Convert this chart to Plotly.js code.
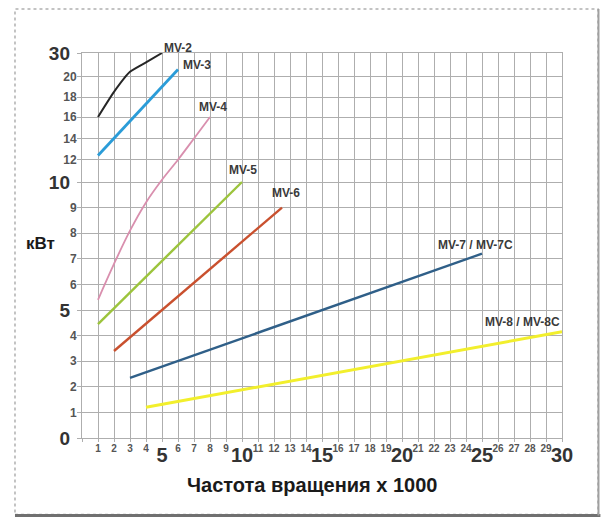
<!DOCTYPE html>
<html>
<head>
<meta charset="utf-8">
<script src="https://cdn.plot.ly/plotly-3.0.1.min.js"></script>
<style>
  html, body { margin: 0; padding: 0; background: #ffffff; }
  #chart { width: 604px; height: 519px; }
</style>
</head>
<body>
<div id="chart"></div>
<script>
// ---- Data (x = rpm x 1000, y = kW) ----
const seriesNames = ['MV-2', 'MV-3', 'MV-4', 'MV-5', 'MV-6', 'MV-7 / MV-7C', 'MV-8 / MV-8C'];
const mv2X = [1, 2, 3, 4, 5];
const mv2Y = [16, 18.5, 22, 26, 30];
const mv3X = [1, 6];
const mv3Y = [12.4, 23];
const mv4X = [1, 2, 3, 4, 5, 6, 7, 8];
const mv4Y = [5.4, 6.8, 8.1, 9.2, 10.2, 12, 14, 16];
const mv5X = [1, 10];
const mv5Y = [4.45, 10];
const mv6X = [2, 12.5];
const mv6Y = [3.4, 9];
const mv7X = [3, 25];
const mv7Y = [2.35, 7.2];
const mv8X = [4, 30];
const mv8Y = [1.2, 4.15];

// ---- Tick labels ----
const xSmallTicks = [1, 2, 3, 4, 6, 7, 8, 9, 11, 12, 13, 14, 16, 17, 18, 19, 21, 22, 23, 24, 26, 27, 28, 29];
const xBigTicks = [5, 10, 15, 20, 25, 30];
const yTickLabels = [0, 1, 2, 3, 4, 5, 6, 7, 8, 9, 10, 12, 14, 16, 18, 20, 30];
const yBigLabels = [0, 5, 10, 30];

// ---- Axis layout (non-uniform kW scale as printed on the chart) ----
const yTickPos = [0, 1, 2, 3, 4, 5, 6, 7, 8, 9, 10, 10.87, 11.70, 12.54, 13.32, 14.12, 15.04];

function toPos(v) {
  for (let i = 0; i < yTickLabels.length - 1; i++) {
    const a = yTickLabels[i], b = yTickLabels[i + 1];
    if (v >= a && v <= b) {
      return yTickPos[i] + (v - a) / (b - a) * (yTickPos[i + 1] - yTickPos[i]);
    }
  }
  return yTickPos[yTickPos.length - 1];
}

const seriesX = [mv2X, mv3X, mv4X, mv5X, mv6X, mv7X, mv8X];
const seriesY = [mv2Y, mv3Y, mv4Y, mv5Y, mv6Y, mv7Y, mv8Y];
const colors = ['#262626', '#2a9cd8', '#d98fae', '#9cc43c', '#c9502e', '#2f5f88', '#f2ef2c'];
const widths = [2, 2.8, 1.8, 2.4, 2.4, 2.4, 3];
const shapesLine = ['spline', 'linear', 'spline', 'linear', 'linear', 'linear', 'linear'];
const smooth = [0.5, 1, 1, 1, 1, 1, 1];

const traces = seriesNames.map((name, i) => ({
  type: 'scatter',
  mode: 'lines',
  name: name,
  x: seriesX[i],
  y: seriesY[i].map(toPos),
  customdata: seriesY[i],
  hovertemplate: name + ': %{customdata} кВт<extra></extra>',
  line: { color: colors[i], width: widths[i], shape: shapesLine[i], smoothing: smooth[i] },
  showlegend: false
}));
traces.push({ type: 'scatter', mode: 'none', x: [], y: [], xaxis: 'x2', yaxis: 'y2', showlegend: false, hoverinfo: 'skip' });

const font = 'Liberation Sans, Arial, sans-serif';
const gridColor = '#aeaeae';

const xAllTicks = [];
for (let v = 0; v <= 30; v++) xAllTicks.push(v);
const xAllText = xAllTicks.map(v => xSmallTicks.indexOf(v) >= 0 ? String(v) : '');
const ySmallText = yTickLabels.map(v => yBigLabels.indexOf(v) >= 0 ? '' : String(v));
const yBigPos = yBigLabels.map(v => yTickPos[yTickLabels.indexOf(v)]);

// label placement relative to each series' end point
const labelOpts = [
  { xanchor: 'left', xshift: 0, yshift: 5 },
  { xanchor: 'left', xshift: 3, yshift: 4 },
  { xanchor: 'center', xshift: 3, yshift: 10 },
  { xanchor: 'center', xshift: 1, yshift: 12 },
  { xanchor: 'center', xshift: 4, yshift: 15 },
  { xanchor: 'center', xshift: -7, yshift: 9 },
  { xanchor: 'right', xshift: 0, yshift: 10 }
];
const annotations = seriesNames.map((name, i) => ({
  x: seriesX[i][seriesX[i].length - 1],
  y: toPos(seriesY[i][seriesY[i].length - 1]),
  xref: 'x', yref: 'y',
  text: name,
  showarrow: false,
  xanchor: labelOpts[i].xanchor,
  yanchor: 'middle',
  xshift: labelOpts[i].xshift,
  yshift: labelOpts[i].yshift,
  font: { family: font, size: 12, color: '#3a3a3a', weight: 'bold' }
}));
annotations.push({
  xref: 'paper', yref: 'paper', x: 0.479, y: -0.122,
  text: 'Частота вращения х 1000', showarrow: false,
  xanchor: 'center', yanchor: 'middle',
  font: { family: font, size: 20, color: '#1a1a1a', weight: 'bold' }
});
annotations.push({
  xref: 'paper', yref: 'paper', x: -0.0875, y: 0.504,
  text: 'кВт', showarrow: false,
  xanchor: 'center', yanchor: 'middle',
  font: { family: font, size: 17, color: '#1a1a1a', weight: 'bold' }
});

const layout = {
  width: 604, height: 519,
  margin: { l: 82, r: 42, t: 53, b: 81 },
  paper_bgcolor: '#ffffff',
  plot_bgcolor: '#ffffff',
  showlegend: false,
  xaxis: {
    range: [0, 30], tickmode: 'array', tickvals: xAllTicks, ticktext: xAllText,
    showgrid: true, gridcolor: gridColor, gridwidth: 1, zeroline: false,
    showline: true, linecolor: gridColor, linewidth: 1, mirror: true,
    ticks: 'outside', ticklen: 3, tickcolor: gridColor,
    tickfont: { family: font, size: 10, color: '#555555', weight: 'bold' },
    ticklabelstandoff: -2, fixedrange: true
  },
  xaxis2: {
    overlaying: 'x', anchor: 'y2', side: 'bottom', range: [0, 30],
    tickmode: 'array', tickvals: xBigTicks, ticktext: xBigTicks.map(String),
    showgrid: false, zeroline: false, showline: false, ticks: '',
    tickfont: { family: font, size: 20, color: '#333333', weight: 'bold' },
    ticklabelstandoff: 3, fixedrange: true
  },
  yaxis: {
    range: [0, 15.04], tickmode: 'array', tickvals: yTickPos, ticktext: ySmallText,
    showgrid: true, gridcolor: gridColor, gridwidth: 1, zeroline: false,
    showline: true, linecolor: gridColor, linewidth: 1, mirror: true,
    ticks: 'outside', ticklen: 4, tickcolor: gridColor,
    tickfont: { family: font, size: 12, color: '#555555', weight: 'bold' },
    ticklabelstandoff: -2, fixedrange: true
  },
  yaxis2: {
    overlaying: 'y', anchor: 'x2', side: 'left', range: [0, 15.04],
    tickmode: 'array', tickvals: yBigPos, ticktext: yBigLabels.map(String),
    showgrid: false, zeroline: false, showline: false, ticks: '',
    tickfont: { family: font, size: 19, color: '#333333', weight: 'bold' },
    ticklabelstandoff: 11, fixedrange: true
  },
  shapes: [
    { type: 'rect', xref: 'paper', yref: 'paper', x0: -0.1396, x1: 1.075, y0: -0.1986, y1: 1.1143,
      line: { color: '#b0b0b0', width: 1.5, dash: 'dot' }, layer: 'below' },
    { type: 'line', xref: 'paper', yref: 'paper', x0: -0.1396, x1: 1.08, y0: -0.2016, y1: -0.2016,
      line: { color: '#707070', width: 3 } },
    { type: 'line', xref: 'paper', yref: 'paper', x0: 1.076, x1: 1.076, y0: -0.2016, y1: 1.1143,
      line: { color: '#a0a0a0', width: 2 } }
  ],
  annotations: annotations
};

Plotly.newPlot('chart', traces, layout, { displayModeBar: false, staticPlot: true });
</script>
</body>
</html>
